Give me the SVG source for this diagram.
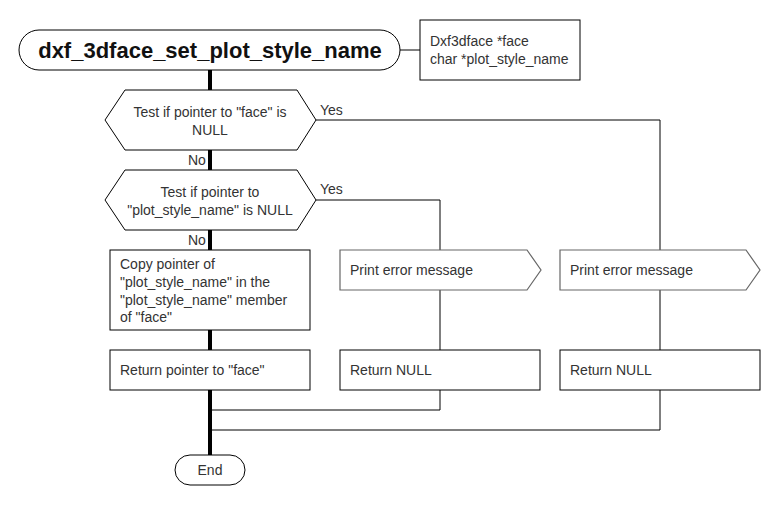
<svg xmlns="http://www.w3.org/2000/svg" width="780" height="510" viewBox="0 0 780 510">
<style>
text{font-family:"Liberation Sans",Arial,sans-serif;font-size:14px;fill:#333}
.title{font-size:22px;font-weight:bold;fill:#111}
.box{fill:#fff;stroke:#000;stroke-width:1}
.pe{fill:#fff;stroke:#666;stroke-width:1.2}
.thin{fill:none;stroke:#000;stroke-width:1}
.thick{fill:none;stroke:#000;stroke-width:4}
.c{text-anchor:middle}
</style>
<rect width="780" height="510" fill="#fff"/>
<g id="connectors">
<line class="thick" x1="210" y1="70" x2="210" y2="90"/>
<line class="thick" x1="210" y1="150" x2="210" y2="170"/>
<line class="thick" x1="210" y1="230" x2="210" y2="250"/>
<line class="thick" x1="210" y1="330" x2="210" y2="350"/>
<line class="thick" x1="210" y1="390" x2="210" y2="455"/>
<line class="thin" x1="400" y1="50" x2="420" y2="50"/>
<polyline class="thin" points="316,120 660,120 660,250"/>
<polyline class="thin" points="316,200 440,200 440,250"/>
<line class="thin" x1="440" y1="290" x2="440" y2="350"/>
<line class="thin" x1="660" y1="290" x2="660" y2="350"/>
<polyline class="thin" points="440,390 440,410 210,410"/>
<polyline class="thin" points="660,390 660,430 210,430"/>
<text x="320" y="115">Yes</text>
<text x="320" y="194">Yes</text>
<text x="188" y="165">No</text>
<text x="188" y="245">No</text>
</g>
<g id="title">
<rect class="box" x="19" y="30" width="381" height="40" rx="20" ry="20"/>
<text class="title c" x="210" y="58">dxf_3dface_set_plot_style_name</text>
</g>
<g id="params">
<rect class="box" x="420" y="20" width="160" height="60"/>
<text x="430" y="46">Dxf3dface *face</text>
<text x="430" y="64">char *plot_style_name</text>
</g>
<g id="decision1">
<polygon class="box" points="105,120 125,90 297,90 316,120 297,150 125,150"/>
<text class="c" x="210" y="117">Test if pointer to "face" is</text>
<text class="c" x="210" y="135">NULL</text>
</g>
<g id="decision2">
<polygon class="box" points="105,200 125,170 297,170 316,200 297,230 125,230"/>
<text class="c" x="210" y="197">Test if pointer to</text>
<text class="c" x="210" y="215">"plot_style_name" is NULL</text>
</g>
<g id="copy">
<rect class="box" x="110" y="250" width="200" height="80"/>
<text x="120" y="269">Copy pointer of</text>
<text x="120" y="287">"plot_style_name" in the</text>
<text x="120" y="305">"plot_style_name" member</text>
<text x="120" y="322">of "face"</text>
</g>
<g id="return_face">
<rect class="box" x="110" y="350" width="200" height="40"/>
<text x="120" y="375">Return pointer to "face"</text>
</g>
<g id="print_error_1">
<polygon class="pe" points="340,250 527,250 541,270 527,290 340,290"/>
<text x="350" y="275">Print error message</text>
</g>
<g id="return_null_1">
<rect class="box" x="340" y="350" width="200" height="40"/>
<text x="350" y="375">Return NULL</text>
</g>
<g id="print_error_2">
<polygon class="pe" points="560,250 746,250 760,270 746,290 560,290"/>
<text x="570" y="275">Print error message</text>
</g>
<g id="return_null_2">
<rect class="box" x="560" y="350" width="200" height="40"/>
<text x="570" y="375">Return NULL</text>
</g>
<g id="end">
<rect class="box" x="175" y="455" width="70" height="30" rx="15" ry="15"/>
<text class="c" x="210" y="475">End</text>
</g>
</svg>
